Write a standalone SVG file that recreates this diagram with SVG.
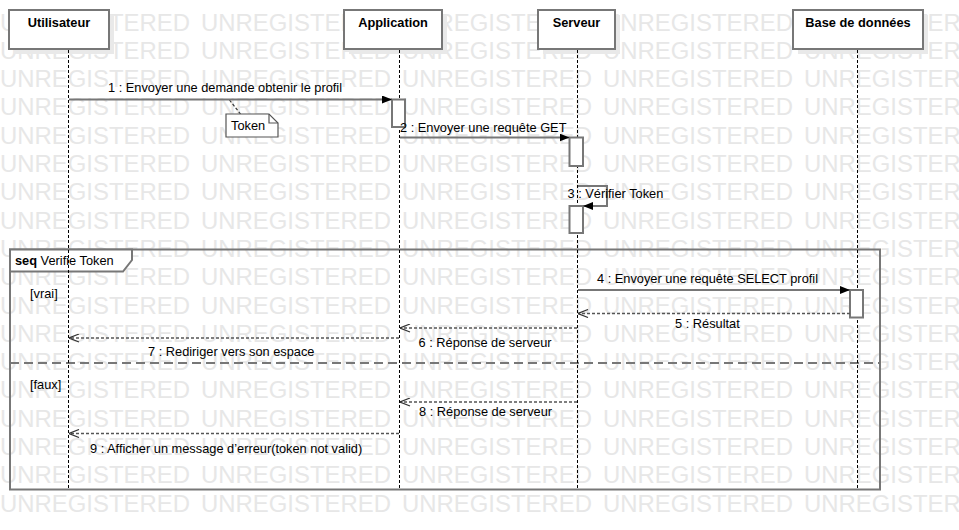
<svg xmlns="http://www.w3.org/2000/svg" xmlns:xlink="http://www.w3.org/1999/xlink" width="959" height="530" viewBox="0 0 959 530">
<style>
  .wm { font-family: "Liberation Sans", Arial, sans-serif; font-size: 23.5px; fill: #e7e7e7; }
  .hdr { fill: #fff; stroke: #777; stroke-width: 2; }
  .shd { fill: #e9e9e9; }
  .hdrt { font-family: "Liberation Sans", Arial, sans-serif; font-size: 12.8px; font-weight: bold; fill: #000; text-anchor: middle; }
  .life { stroke: #000; stroke-width: 1; stroke-dasharray: 3 2; fill: none; }
  .act { fill: #fff; stroke: #777; stroke-width: 2; }
  .t { font-family: "Liberation Sans", Arial, sans-serif; font-size: 12.8px; fill: #000; }
  .msg { stroke: #777; stroke-width: 2; fill: none; }
  .ret { stroke: #555; stroke-width: 1.5; stroke-dasharray: 3 2; fill: none; }
  .frame { fill: none; stroke: #777; stroke-width: 2; }
</style>
<defs>
  <marker id="fa" viewBox="0 0 10 8" refX="10" refY="4" markerWidth="10" markerHeight="8" markerUnits="userSpaceOnUse" orient="auto">
    <path d="M0,0 L10,4 L0,8 z" fill="#000"/>
  </marker>
  <marker id="oa" viewBox="0 0 11 9" refX="10.5" refY="4.5" markerWidth="11" markerHeight="9" markerUnits="userSpaceOnUse" orient="auto">
    <path d="M0.5,0.5 L10.5,4.5 L0.5,8.5" fill="none" stroke="#333" stroke-width="1.2"/>
  </marker>
  <g id="wm" class="wm">
    <text x="0" y="30.5" textLength="190" lengthAdjust="spacingAndGlyphs">UNREGISTERED</text>
    <text x="201" y="30.5" textLength="190" lengthAdjust="spacingAndGlyphs">UNREGISTERED</text>
    <text x="402" y="30.5" textLength="190" lengthAdjust="spacingAndGlyphs">UNREGISTERED</text>
    <text x="603" y="30.5" textLength="190" lengthAdjust="spacingAndGlyphs">UNREGISTERED</text>
    <text x="804" y="30.5" textLength="190" lengthAdjust="spacingAndGlyphs">UNREGISTERED</text>
  </g>
</defs>
<rect width="959" height="530" fill="#fff"/>
<g id="watermark">
  <use xlink:href="#wm" y="0"/>
  <use xlink:href="#wm" y="28.3"/>
  <use xlink:href="#wm" y="56.6"/>
  <use xlink:href="#wm" y="84.9"/>
  <use xlink:href="#wm" y="113.2"/>
  <use xlink:href="#wm" y="141.5"/>
  <use xlink:href="#wm" y="169.8"/>
  <use xlink:href="#wm" y="198.1"/>
  <use xlink:href="#wm" y="226.4"/>
  <use xlink:href="#wm" y="254.7"/>
  <use xlink:href="#wm" y="283"/>
  <use xlink:href="#wm" y="311.3"/>
  <use xlink:href="#wm" y="339.6"/>
  <use xlink:href="#wm" y="367.9"/>
  <use xlink:href="#wm" y="396.2"/>
  <use xlink:href="#wm" y="424.5"/>
  <use xlink:href="#wm" y="452.8"/>
  <use xlink:href="#wm" y="481.1"/>
</g>

<g id="fragment-verifie-token">
  <rect class="frame" x="10" y="249.5" width="870" height="240"/>
  <path d="M10,249.5 H132 V260 L123,271.5 H10 Z" fill="#fff" stroke="#777" stroke-width="2"/>
  <text class="t" x="15" y="265"><tspan font-weight="bold">seq</tspan> Verifie Token</text>
  <line x1="10" y1="363" x2="880" y2="363" stroke="#777" stroke-width="2" stroke-dasharray="9 5"/>
  <text class="t" x="30" y="298">[vrai]</text>
  <text class="t" x="30" y="389">[faux]</text>
</g>

<g id="lifeline-utilisateur">
  <rect class="shd" x="14" y="15" width="100" height="39"/>
  <rect class="hdr" x="9" y="10" width="100" height="39"/>
  <text class="hdrt" x="59" y="27">Utilisateur</text>
  <line class="life" x1="68.5" y1="50" x2="68.5" y2="490"/>
</g>

<g id="lifeline-application">
  <rect class="shd" x="349" y="15" width="98" height="39"/>
  <rect class="hdr" x="344" y="10" width="98" height="39"/>
  <text class="hdrt" x="393" y="27">Application</text>
  <line class="life" x1="399.5" y1="50" x2="399.5" y2="490"/>
  <rect class="act" x="392" y="99.5" width="13" height="27.5"/>
</g>

<g id="lifeline-serveur">
  <rect class="shd" x="543" y="15" width="77" height="39"/>
  <rect class="hdr" x="538" y="10" width="77" height="39"/>
  <text class="hdrt" x="576.5" y="27">Serveur</text>
  <line class="life" x1="577.5" y1="50" x2="577.5" y2="490"/>
  <rect class="act" x="569.5" y="137.5" width="13.5" height="28.5"/>
  <rect class="act" x="569.5" y="206" width="13.5" height="27"/>
</g>

<g id="lifeline-base-de-donnees">
  <rect class="shd" x="798" y="15" width="130" height="39"/>
  <rect class="hdr" x="793" y="10" width="130" height="39"/>
  <text class="hdrt" x="858" y="27">Base de données</text>
  <line class="life" x1="857.5" y1="50" x2="857.5" y2="490"/>
  <rect class="act" x="850" y="290" width="13" height="27.5"/>
</g>

<g id="note-token">
  <line x1="229.5" y1="100" x2="240.5" y2="114" stroke="#333" stroke-width="1.2" stroke-dasharray="3 2"/>
  <path d="M226,114 H269 L278,123 V137 H226 Z" fill="#fff" stroke="#555" stroke-width="1.2"/>
  <path d="M269,114 V123 H278" fill="none" stroke="#555" stroke-width="1.2"/>
  <text class="t" x="231" y="130">Token</text>
</g>

<g id="connectors">
  <line class="msg" x1="69" y1="99.5" x2="392" y2="99.5" marker-end="url(#fa)"/>
  <text class="t" x="108" y="92">1 : Envoyer une demande obtenir le profil</text>

  <line class="msg" x1="400" y1="137.5" x2="569.5" y2="137.5" marker-end="url(#fa)"/>
  <text class="t" x="400" y="132">2 : Envoyer une requête GET</text>

  <path class="msg" d="M578,186 H607 V206 H583" marker-end="url(#fa)"/>
  <text class="t" x="567.5" y="198">3 : Vérifier Token</text>

  <line class="msg" x1="578" y1="290" x2="850" y2="290" marker-end="url(#fa)"/>
  <text class="t" x="597" y="283">4 : Envoyer une requête SELECT profil</text>

  <line class="ret" x1="850" y1="313.5" x2="578" y2="313.5" marker-end="url(#oa)"/>
  <text class="t" x="675" y="328">5 : Résultat</text>

  <line class="ret" x1="577" y1="328" x2="400" y2="328" marker-end="url(#oa)"/>
  <text class="t" x="418.5" y="347">6 : Réponse de serveur</text>

  <line class="ret" x1="399" y1="338" x2="69" y2="338" marker-end="url(#oa)"/>
  <text class="t" x="148" y="356">7 : Rediriger vers son espace</text>

  <line class="ret" x1="577" y1="402" x2="400" y2="402" marker-end="url(#oa)"/>
  <text class="t" x="419" y="416">8 : Réponse de serveur</text>

  <line class="ret" x1="399" y1="433.5" x2="69" y2="433.5" marker-end="url(#oa)"/>
  <text class="t" x="90" y="452.5">9 : Afficher un message d’erreur(token not valid)</text>
</g>
</svg>
